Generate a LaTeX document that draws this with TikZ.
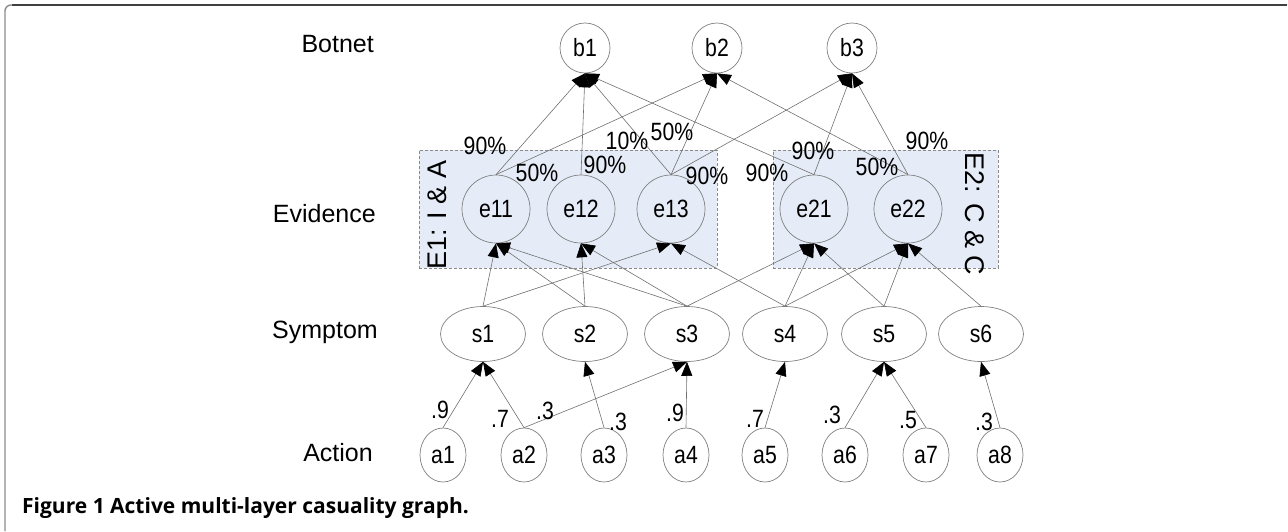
\documentclass[tikz,border=0pt]{standalone}
\usepackage{fontspec}
\setmainfont{Liberation Sans}
\newfontfamily\condfont[FakeStretch=0.85]{Liberation Sans}
\newfontfamily\capfont{Open Sans}
\usetikzlibrary{arrows.meta,shapes.geometric}
\definecolor{nodegray}{HTML}{808080}
\definecolor{edgegray}{HTML}{707070}
\definecolor{boxfill}{HTML}{E6ECF7}
\definecolor{boxline}{HTML}{8A8A8A}
\begin{document}
\begin{tikzpicture}[x=1pt,y=-1pt,
  txt/.style={font=\condfont\fontsize{25}{28}\selectfont, inner sep=0pt},
  rowlbl/.style={font=\fontsize{25}{28}\selectfont, inner sep=0pt, anchor=east},
  bignode/.style={circle, draw=nodegray, line width=0.7pt, fill=white, minimum size=50pt, inner sep=0pt, font=\condfont\fontsize{25}{28}\selectfont},
  evnode/.style={circle, draw=nodegray, line width=0.7pt, minimum size=68pt, inner sep=0pt, font=\condfont\fontsize{25}{28}\selectfont},
  synode/.style={ellipse, draw=nodegray, line width=0.7pt, fill=white, minimum width=85pt, minimum height=55pt, inner sep=0pt, font=\condfont\fontsize{25}{28}\selectfont},
  acnode/.style={ellipse, draw=nodegray, line width=0.7pt, fill=white, minimum width=46pt, minimum height=54pt, inner sep=0pt, font=\condfont\fontsize{25}{28}\selectfont},
  ebox/.style={rectangle, draw=boxline, fill=boxfill, dashed, dash pattern=on 3pt off 2pt, line width=0.7pt, inner sep=0pt},
  conn/.style={draw=edgegray, line width=0.6pt, -{Triangle[length=14pt,width=11pt,color=black]}},
]
\useasboundingbox (0,0) rectangle (1288,531);
% frame
\draw[line width=1.4pt, draw=black!45, rounded corners=6pt] (5,531) -- (5,5) -- (1287,5);
\draw[line width=1.4pt, draw=black!75] (12,5) -- (1287,5);

% evidence boxes
\node[ebox, minimum width=298pt, minimum height=118pt] (E1) at (568,209) {};
\node[ebox, minimum width=225pt, minimum height=118pt] (E2) at (885.5,209) {};
\node[font=\fontsize{27}{30}\selectfont, inner sep=0pt, rotate=90] (E1lbl) at (437,215) {E1: I \& A};
\node[font=\fontsize{27}{30}\selectfont, inner sep=0pt, rotate=-90] (E2lbl) at (975,214) {E2: C \& C};

% row labels
\node[rowlbl] (Lb) at (374,44) {Botnet};
\node[rowlbl] (Le) at (376,214) {Evidence};
\node[rowlbl] (Ls) at (378,332) {Symptom};
\node[rowlbl] (La) at (373,453) {Action};

% botnet
\node[bignode] (b1) at (585,48) {b1};
\node[bignode] (b2) at (717,48) {b2};
\node[bignode] (b3) at (852,48) {b3};

% evidence
\node[evnode] (e11) at (496,209) {e11};
\node[evnode] (e12) at (581,209) {e12};
\node[evnode] (e13) at (671,209) {e13};
\node[evnode] (e21) at (814,209) {e21};
\node[evnode] (e22) at (908,209) {e22};

% symptoms
\node[synode] (s1) at (483,334) {s1};
\node[synode] (s2) at (585,334) {s2};
\node[synode] (s3) at (687,334) {s3};
\node[synode] (s4) at (785,334) {s4};
\node[synode] (s5) at (884,334) {s5};
\node[synode] (s6) at (981,334) {s6};

% actions
\node[acnode] (a1) at (443,455) {a1};
\node[acnode] (a2) at (524,455) {a2};
\node[acnode] (a3) at (604,455) {a3};
\node[acnode] (a4) at (686,455) {a4};
\node[acnode] (a5) at (765,455) {a5};
\node[acnode] (a6) at (845,455) {a6};
\node[acnode] (a7) at (926,455) {a7};
\node[acnode] (a8) at (1000,455) {a8};

% evidence -> botnet
\foreach \s/\t in {e11/b1,e11/b2,e12/b1,e13/b1,e13/b2,e13/b3,e21/b1,e21/b3,e22/b2,e22/b3}
  \draw[conn] (\s.north) -- (\t.south);
% symptom -> evidence
\foreach \s/\t in {s1/e11,s1/e13,s2/e11,s2/e12,s3/e11,s3/e12,s3/e21,s4/e13,s4/e21,s4/e22,s5/e21,s5/e22,s6/e22}
  \draw[conn] (\s.north) -- (\t.south);
% action -> symptom
\foreach \s/\t in {a1/s1,a2/s1,a2/s3,a3/s2,a4/s3,a5/s4,a6/s5,a7/s5,a8/s6}
  \draw[conn] (\s.north) -- (\t.south);

% labels e->b
\node[txt] (p1) at (485,146) {90\%};
\node[txt] (p2) at (537,173) {50\%};
\node[txt] (p3) at (605,165) {90\%};
\node[txt] (p4) at (627,141) {10\%};
\node[txt] (p5) at (672,132) {50\%};
\node[txt] (p6) at (707,176) {90\%};
\node[txt] (p7) at (767,173) {90\%};
\node[txt] (p8) at (813,151) {90\%};
\node[txt] (p9) at (877,167) {50\%};
\node[txt] (p10) at (927,141) {90\%};

% labels a->s
\node[txt] (q1) at (440,410) {.9};
\node[txt] (q2) at (500,419) {.7};
\node[txt] (q3) at (545,411) {.3};
\node[txt] (q4) at (618,422) {.3};
\node[txt] (q5) at (675,413) {.9};
\node[txt] (q6) at (755,419) {.7};
\node[txt] (q7) at (832,415) {.3};
\node[txt] (q8) at (908,420) {.5};
\node[txt] (q9) at (984,422) {.3};

% caption
\node[anchor=west, inner sep=0pt, font=\capfont\bfseries\fontsize{21}{24}\selectfont] (cap) at (22,508) {Figure 1 Active multi-layer casuality graph.};
\end{tikzpicture}
\end{document}
